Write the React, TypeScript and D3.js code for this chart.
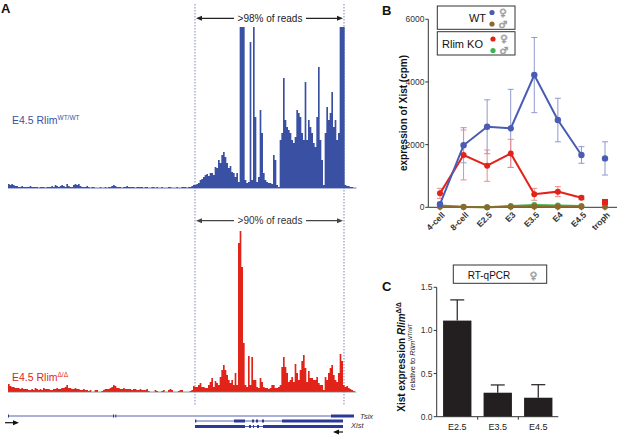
import React from "react";
import * as d3 from "d3";

const W = 617;
const H = 435;
const FONT = "'Liberation Sans', Arial, Helvetica, sans-serif";
const SYM = "'DejaVu Sans', 'Noto Sans', sans-serif";

// ---------- Panel A: read coverage tracks (bins along the locus) ----------
const blueLeft = [
  4, 3, 4, 3, 2, 2, 1, 1, 2, 1,
  1, 1, 1, 2, 1, 1, 1, 1, 0, 1,
  1, 1, 0, 1, 1, 1, 2, 1, 3, 2,
  1, 2, 3, 2, 1, 4, 2, 1, 1, 3,
  4, 3, 4, 2, 1, 1, 1, 2, 1, 0,
  1, 1, 0, 0, 0, 1, 0, 0, 1, 0,
  1, 1, 2, 3, 2, 1, 1, 1, 0, 1,
  1, 2, 1, 1, 1, 1, 0, 1, 1, 1,
  1, 0, 1, 1, 0, 0, 1, 1, 0, 1,
  0, 0, 1, 0, 0, 0, 1, 1, 0, 0,
  0, 1, 0, 0, 1, 1, 1, 0, 1, 1, 2, 3,
];
const blueMain = [
  3, 4, 5, 8, 9, 11, 13, 14, 12, 15,
  15, 13, 21, 20, 28, 25, 33, 36, 31, 25,
  20, 22, 16, 15, 11, 15, 6, 240, 240, 240,
  8, 5, 6, 146, 8, 240, 71, 6, 11, 78,
  55, 15, 8, 6, 5, 5, 4, 33, 28, 3,
  1, 48, 55, 110, 68, 61, 58, 55, 48, 45,
  51, 78, 75, 71, 55, 48, 106, 48, 68, 61,
  55, 45, 41, 71, 121, 48, 28, 3, 55, 81,
  68, 75, 96, 61, 68, 48, 55, 240, 240, 240,
];
const blueRight = [3, 2, 2, 1, 1, 0, 0];

const redLeft = [
  8, 6, 5, 5, 4, 4, 4, 3, 4, 3,
  3, 3, 2, 2, 3, 2, 4, 3, 2, 3,
  2, 4, 3, 3, 3, 2, 2, 3, 3, 4,
  3, 3, 4, 4, 5, 7, 4, 4, 3, 3,
  4, 3, 3, 2, 2, 3, 2, 2, 1, 2,
  0, 0, 2, 2, 0, 0, 1, 2, 3, 3,
  3, 4, 5, 7, 6, 4, 4, 3, 3, 4,
  3, 3, 3, 3, 2, 3, 3, 2, 2, 3,
  2, 2, 2, 3, 1, 0, 0, 0, 2, 1,
  0, 0, 1, 2, 0, 0, 2, 3, 2, 0,
  0, 0, 1, 2, 2, 0, 0, 0, 0, 1, 2, 6,
];
const redMain = [
  5, 5, 7, 9, 5, 5, 4, 4, 7, 10,
  14, 5, 11, 9, 7, 15, 22, 27, 22, 17,
  12, 9, 12, 7, 19, 7, 149, 163, 125, 49,
  7, 5, 36, 7, 35, 12, 12, 5, 4, 14,
  10, 5, 4, 4, 3, 4, 7, 7, 4, 4,
  5, 7, 25, 35, 25, 19, 10, 12, 15, 10,
  28, 19, 12, 22, 31, 37, 24, 10, 21, 14,
  14, 12, 12, 15, 9, 7, 7, 2, 15, 12,
  19, 24, 27, 17, 12, 10, 19, 38, 31, 7,
];
const redRight = [5, 6, 4, 3, 2, 1, 0];

const blueTrack = [...blueLeft, ...blueMain, ...blueRight];
const redTrack = [...redLeft, ...redMain, ...redRight];

const regionBounds = [112.2, 201.6];
const tsixLine = [0, 207.6];
const tsixExons = [[0, 0.6], [63, 63.6], [64.4, 65], [193.8, 207.6]];
const xistLine = [112.2, 201];
const xistExons1 = [[112.2, 113], [135.6, 142.2], [146.4, 147.6], [148.8, 150], [152.4, 153.6], [164.4, 201]];
const xistExons2 = [[112.2, 142.2], [144.6, 145.8], [147, 147.6], [149.4, 150.6], [153, 201]];

// ---------- Panel B ----------
const stages = ["4-cell", "8-cell", "E2.5", "E3", "E3.5", "E4", "E4.5", "troph"];
const wtFemale = [100, 1980, 2570, 2520, 4220, 2785, 1670, 1560];
const wtFemaleErr = [60, 560, 860, 1245, 1200, 695, 265, 530];
const koFemale = [445, 1670, 1330, 1720, 415, 500, 305, 170];
const koFemaleErr = [160, 795, 500, 450, 190, 160, 60, 60];
const wtMale = [20, 10, 5, 20, 25, 20, 20, 20];
const koMale = [60, 15, 5, 45, 70, 60, 40];
const bTicks = [0, 2000, 4000, 6000];

// ---------- Panel C ----------
const qCats = ["E2.5", "E3.5", "E4.5"];
const qValues = [1.114, 0.278, 0.22];
const qErr = [0.24, 0.09, 0.151];
const cTicks = [0, 0.5, 1.0, 1.5];

const BLUE = "#3a51a3";
const RED = "#e2231a";

export default function App() {
  const tx = d3.scaleLinear().domain([0, 209]).range([8, 356.33]);
  const blueY = d3.scaleLinear().domain([0, 161]).range([188, 27]).clamp(true);
  const redY = d3.scaleLinear().domain([0, 161]).range([392, 231]).clamp(true);

  const stepArea = (vals: number[], y: d3.ScaleLinear<number, number>) => {
    const pts: [number, number][] = vals.map((v, i) => [i, v]);
    pts.push([vals.length, vals[vals.length - 1]]);
    return d3
      .area<[number, number]>()
      .x((d) => tx(d[0]))
      .y0(y(0))
      .y1((d) => y(d[1]))
      .curve(d3.curveStepAfter)(pts) as string;
  };

  const xB = d3.scalePoint<string>().domain(stages).range([440, 605]);
  const yB = d3.scaleLinear().domain([0, 6000]).range([207.3, 19.3]);
  const lineB = (vals: number[]) =>
    d3
      .line<number>()
      .x((_, i) => xB(stages[i]) as number)
      .y((d) => yB(d))(vals.slice(0, 7)) as string;

  const xC = d3.scaleBand<string>().domain(qCats).range([437, 558.5]).paddingInner(0.3).paddingOuter(0.15);
  const yC = d3.scaleLinear().domain([0, 1.5]).range([416.7, 287.3]);
  const fmt = d3.format(".1f");

  const arrow = (x1: number, x2: number, y: number, color: string) => {
    const dir = Math.sign(x2 - x1);
    return (
      <g>
        <line x1={x1} y1={y} x2={x2 - dir * 4} y2={y} stroke={color} strokeWidth={1.2} />
        <path d={`M${x2},${y} L${x2 - dir * 6},${y - 2.5} L${x2 - dir * 6},${y + 2.5} Z`} fill={color} />
      </g>
    );
  };

  const errBar = (x: number, v: number, e: number, color: string, key: string) => (
    <g key={key} stroke={color} strokeWidth={1}>
      <line x1={x} x2={x} y1={yB(v + e)} y2={yB(Math.max(0, v - e))} />
      <line x1={x - 3} x2={x + 3} y1={yB(v + e)} y2={yB(v + e)} />
      <line x1={x - 3} x2={x + 3} y1={yB(Math.max(0, v - e))} y2={yB(Math.max(0, v - e))} />
    </g>
  );

  const sym = (x: number, y: number, s: string) => (
    <text x={x} y={y} fontSize={10} fontFamily={SYM} textAnchor="middle" fill="#fff" stroke="#999" strokeWidth={0.7}>
      {s}
    </text>
  );

  return (
    <svg width={W} height={H} style={{ position: "absolute", left: 0, top: 0, background: "#fff" }} fontFamily={FONT}>
      {/* ================= Panel A ================= */}
      <text x={1} y={13} fontSize={13} fontWeight="bold" fill="#111">A</text>

      {regionBounds.map((b, i) => (
        <line key={i} x1={tx(b)} x2={tx(b)} y1={4} y2={406} stroke="#7d86bf" strokeWidth={1} strokeDasharray="1.5,1.5" />
      ))}

      {arrow(234, tx(regionBounds[0]) + 1, 18.3, "#222")}
      {arrow(306, tx(regionBounds[1]) - 1, 18.3, "#222")}
      <text x={270} y={21.8} fontSize={10} textAnchor="middle" fill="#222">&gt;98% of reads</text>

      {arrow(234, tx(regionBounds[0]) + 1, 220.7, "#444")}
      {arrow(306, tx(regionBounds[1]) - 1, 220.7, "#444")}
      <text x={270} y={224.2} fontSize={10} textAnchor="middle" fill="#333">&gt;90% of reads</text>

      <path d={stepArea(blueTrack, blueY)} fill={BLUE} />
      <line x1={tx(0)} x2={tx(209)} y1={188} y2={188} stroke={BLUE} strokeWidth={0.8} />
      <path d={stepArea(redTrack, redY)} fill={RED} />
      <line x1={tx(0)} x2={tx(209)} y1={392} y2={392} stroke="#777" strokeWidth={0.8} />

      <text x={12} y={123.5} fontSize={10.5} fill={BLUE}>
        E4.5 Rlim<tspan fontSize={6.5} dy={-4}>WT/WT</tspan>
      </text>
      <text x={12} y={381} fontSize={10.5} fill={RED}>
        E4.5 Rlim<tspan fontSize={6.5} dy={-4}>Δ/Δ</tspan>
      </text>

      {/* gene track */}
      <line x1={tx(tsixLine[0])} x2={tx(tsixLine[1])} y1={416} y2={416} stroke="#2b3a99" strokeWidth={0.8} />
      {tsixExons.map((e, i) => (
        <rect key={i} x={tx(e[0])} width={Math.max(1, tx(e[1]) - tx(e[0]))} y={414.5} height={3} fill="#2b3a99" />
      ))}
      <text x={360} y={418.5} fontSize={7.5} fontStyle="italic" fill="#333">Tsix</text>

      <line x1={tx(xistLine[0])} x2={tx(xistLine[1])} y1={421} y2={421} stroke="#2b3a99" strokeWidth={0.8} />
      {xistExons1.map((e, i) => (
        <rect key={i} x={tx(e[0])} width={Math.max(1, tx(e[1]) - tx(e[0]))} y={419.5} height={3} fill="#2b3a99" />
      ))}
      <line x1={tx(xistLine[0])} x2={tx(xistLine[1])} y1={426.5} y2={426.5} stroke="#2b3a99" strokeWidth={0.8} />
      {xistExons2.map((e, i) => (
        <rect key={i} x={tx(e[0])} width={Math.max(1, tx(e[1]) - tx(e[0]))} y={425} height={3} fill="#2b3a99" />
      ))}
      <text x={351} y={428} fontSize={7.5} fontStyle="italic" fill="#333">Xist</text>

      {arrow(5, 19, 422.7, "#111")}
      {arrow(343, 333, 432, "#111")}

      {/* ================= Panel B ================= */}
      <text x={382} y={15} fontSize={13} fontWeight="bold" fill="#111">B</text>

      <line x1={428.3} x2={428.3} y1={yB(6000)} y2={yB(0)} stroke="#333" strokeWidth={1} />
      {bTicks.map((t) => (
        <g key={t}>
          <line x1={425.3} x2={428.3} y1={yB(t)} y2={yB(t)} stroke="#333" />
          <text x={424.5} y={yB(t) + 3} fontSize={8.5} textAnchor="end" fill="#333">{t}</text>
        </g>
      ))}
      <line x1={428.3} x2={617} y1={yB(0)} y2={yB(0)} stroke="#333" strokeWidth={1} />
      {stages.map((s) => (
        <g key={s}>
          <line x1={xB(s)} x2={xB(s)} y1={yB(0)} y2={yB(0) + 3} stroke="#333" />
          <text
            transform={`translate(${(xB(s) as number) + 5.5},${215.5}) rotate(-45)`}
            fontSize={8.5}
            fontWeight="bold"
            textAnchor="end"
            fill="#333"
          >
            {s}
          </text>
        </g>
      ))}
      <text transform="translate(407,113) rotate(-90)" fontSize={10} fontWeight="bold" textAnchor="middle" fill="#111">
        expression of Xist (cpm)
      </text>

      {wtFemale.map((v, i) => errBar(xB(stages[i]) as number, v, wtFemaleErr[i], "#8f98cf", "we" + i))}
      {koFemale.map((v, i) => errBar(xB(stages[i]) as number, v, koFemaleErr[i], "#ec8a8d", "ke" + i))}

      <path d={lineB(koMale)} fill="none" stroke="#3cb44b" strokeWidth={2} />
      {koMale.map((v, i) => (
        <circle key={"km" + i} cx={xB(stages[i])} cy={yB(v)} r={3} fill="#3cb44b" />
      ))}
      <path d={lineB(wtMale)} fill="none" stroke="#8b6a2b" strokeWidth={2} />
      {wtMale.map((v, i) => (
        <circle key={"wm" + i} cx={xB(stages[i])} cy={yB(v)} r={3} fill="#8b6a2b" />
      ))}
      <path d={lineB(koFemale)} fill="none" stroke={RED} strokeWidth={2} />
      {koFemale.map((v, i) =>
        i === 7 ? (
          <rect key={"kf" + i} x={(xB(stages[i]) as number) - 3} y={yB(v) - 3} width={6} height={6} fill={RED} />
        ) : (
          <circle key={"kf" + i} cx={xB(stages[i])} cy={yB(v)} r={3} fill={RED} />
        )
      )}
      <path d={lineB(wtFemale)} fill="none" stroke="#4a5bb3" strokeWidth={2} />
      {wtFemale.map((v, i) => (
        <circle key={"wf" + i} cx={xB(stages[i])} cy={yB(v)} r={3.2} fill="#4a5bb3" />
      ))}

      {/* legend */}
      <rect x={437.3} y={6} width={77.7} height={23.3} fill="#fff" stroke="#333" strokeWidth={1} />
      <text x={486} y={21.5} fontSize={11} textAnchor="end" fill="#111">WT</text>
      <circle cx={492} cy={12.5} r={2.6} fill="#4a5bb3" />
      <circle cx={492} cy={24} r={2.6} fill="#8b6a2b" />
      {sym(503, 16, "♀")}
      {sym(503, 28, "♂")}

      <rect x={437.3} y={31.7} width={77.7} height={23.3} fill="#fff" stroke="#333" strokeWidth={1} />
      <text x={442} y={47.5} fontSize={11} fill="#111">Rlim KO</text>
      <circle cx={493} cy={39} r={2.6} fill={RED} />
      <circle cx={493} cy={50.5} r={2.6} fill="#3cb44b" />
      {sym(504, 42, "♀")}
      {sym(504, 54, "♂")}

      {/* ================= Panel C ================= */}
      <text x={382} y={291} fontSize={13} fontWeight="bold" fill="#111">C</text>

      <rect x={453.3} y={265} width={93.4} height={18.3} fill="#fff" stroke="#333" strokeWidth={1} />
      <text x={489} y={278.5} fontSize={10} textAnchor="middle" fill="#111">RT-qPCR</text>
      {sym(533.5, 279, "♀")}

      {qCats.map((c, i) => {
        const x0 = xC(c) as number;
        const bw = xC.bandwidth();
        const cx = x0 + bw / 2;
        return (
          <g key={c}>
            <line x1={cx} x2={cx} y1={yC(qValues[i])} y2={yC(qValues[i] + qErr[i])} stroke="#231f20" strokeWidth={1.2} />
            <line x1={cx - 7} x2={cx + 7} y1={yC(qValues[i] + qErr[i])} y2={yC(qValues[i] + qErr[i])} stroke="#231f20" strokeWidth={1.2} />
            <rect x={x0} y={yC(qValues[i])} width={bw} height={yC(0) - yC(qValues[i])} fill="#231f20" />
            <text x={cx} y={430} fontSize={9} textAnchor="middle" fill="#222">{c}</text>
          </g>
        );
      })}
      <line x1={436.7} x2={436.7} y1={yC(1.5)} y2={yC(0)} stroke="#333" strokeWidth={1} />
      {cTicks.map((t) => (
        <g key={t}>
          <line x1={433.7} x2={436.7} y1={yC(t)} y2={yC(t)} stroke="#333" />
          <text x={432.5} y={yC(t) + 3} fontSize={8.5} textAnchor="end" fill="#333">{fmt(t)}</text>
        </g>
      ))}
      <line x1={436.7} x2={558.3} y1={yC(0)} y2={yC(0)} stroke="#333" strokeWidth={1} />
      {[477.7, 518.3].map((x) => (
        <line key={x} x1={x} x2={x} y1={yC(0)} y2={yC(0) + 3} stroke="#333" />
      ))}
      <text transform="translate(405,357) rotate(-90)" fontSize={10} fontWeight="bold" textAnchor="middle" fill="#111">
        Xist expression <tspan fontStyle="italic">Rlim</tspan>
        <tspan fontSize={6.5} dy={-4}>Δ/Δ</tspan>
      </text>
      <text transform="translate(415,357) rotate(-90)" fontSize={7.5} textAnchor="middle" fill="#222">
        relative to <tspan fontStyle="italic">Rlim</tspan>
        <tspan fontSize={5} dy={-3}>WT/WT</tspan>
      </text>
    </svg>
  );
}
